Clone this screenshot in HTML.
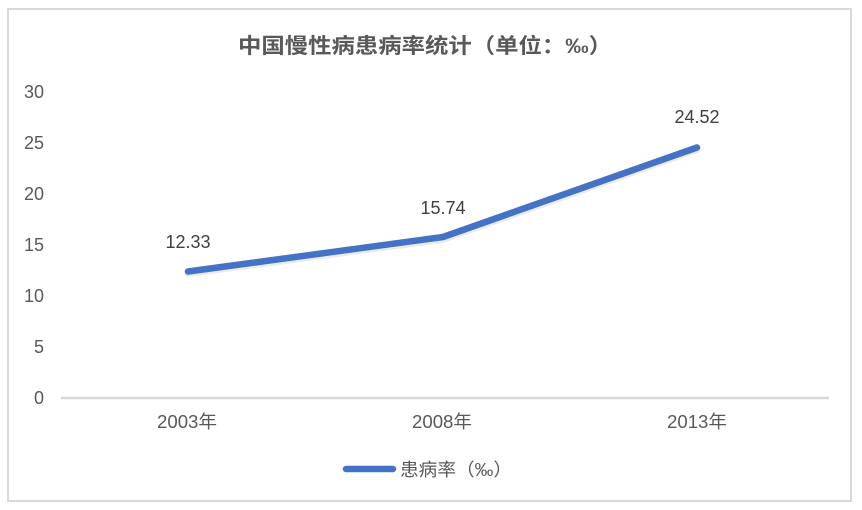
<!DOCTYPE html>
<html>
<head>
<meta charset="utf-8">
<style>
  html, body { margin: 0; padding: 0; background: #ffffff; }
  body { width: 862px; height: 510px; overflow: hidden; }
  svg { display: block; }
  text { font-family: "Liberation Sans", "Noto Sans CJK SC", sans-serif; }
</style>
</head>
<body>
<svg width="862" height="510" viewBox="0 0 862 510" xmlns="http://www.w3.org/2000/svg">
  <rect x="0" y="0" width="862" height="510" fill="#ffffff"/>
  <!-- frame -->
  <rect x="8" y="9" width="843" height="492" fill="#ffffff" stroke="#d9d9d9" stroke-width="2"/>

  <!-- title -->
  <text x="425" y="53" text-anchor="middle" font-size="21" font-weight="bold" fill="#595959" textLength="374" lengthAdjust="spacingAndGlyphs">中国慢性病患病率统计（单位：‰）</text>

  <!-- y axis labels -->
  <g font-size="18" fill="#595959" text-anchor="end">
    <text x="44" y="98">30</text>
    <text x="44" y="149">25</text>
    <text x="44" y="200">20</text>
    <text x="44" y="251">15</text>
    <text x="44" y="302">10</text>
    <text x="44" y="353">5</text>
    <text x="44" y="404">0</text>
  </g>

  <!-- x axis line -->
  <line x1="61" y1="398" x2="829" y2="398" stroke="#d9d9d9" stroke-width="2.5"/>

  <!-- x labels -->
  <g font-size="18" fill="#595959" text-anchor="middle">
    <text x="187" y="428" textLength="60" lengthAdjust="spacingAndGlyphs">2003年</text>
    <text x="442" y="428" textLength="60" lengthAdjust="spacingAndGlyphs">2008年</text>
    <text x="697" y="428" textLength="60" lengthAdjust="spacingAndGlyphs">2013年</text>
  </g>

  <!-- series shadow -->
  <polyline points="188,273.5 443,239.5 697,149.5" fill="none" stroke="#000000" stroke-opacity="0.08" stroke-width="7" stroke-linecap="round" stroke-linejoin="round"/>
  <!-- series -->
  <polyline points="188,271.5 443,237 697,147.5" fill="none" stroke="#4472c4" stroke-width="6.5" stroke-linecap="round" stroke-linejoin="round"/>

  <!-- data labels -->
  <g font-size="18" fill="#404040" text-anchor="middle">
    <text x="188" y="248">12.33</text>
    <text x="443" y="214">15.74</text>
    <text x="697" y="123">24.52</text>
  </g>

  <!-- legend -->
  <line x1="346" y1="469" x2="393" y2="469" stroke="#4472c4" stroke-width="6.5" stroke-linecap="round"/>
  <text x="400" y="476" font-size="18" fill="#595959" textLength="112" lengthAdjust="spacingAndGlyphs">患病率（‰）</text>
</svg>
</body>
</html>
